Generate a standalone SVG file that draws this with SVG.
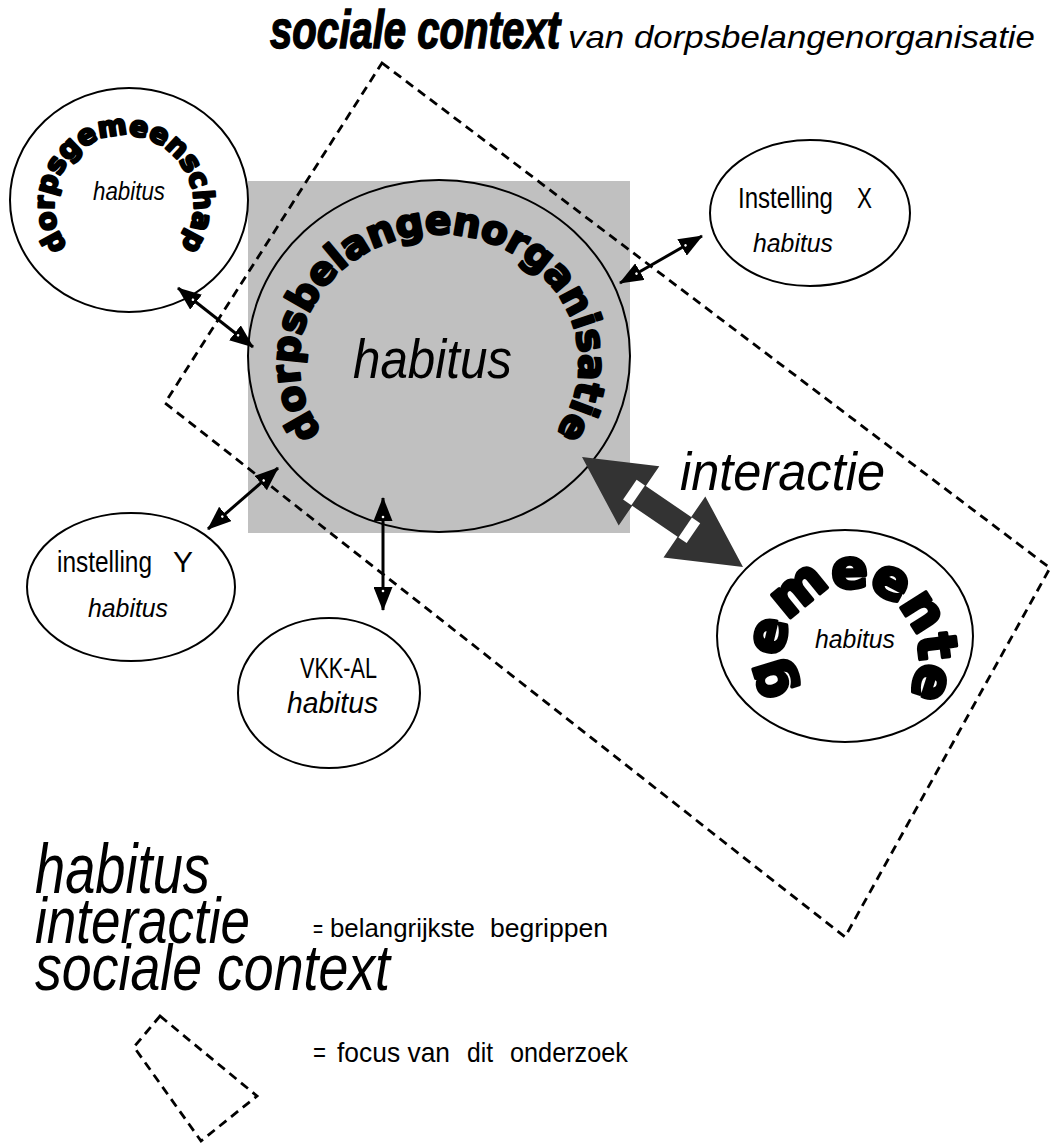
<svg xmlns="http://www.w3.org/2000/svg" width="1052" height="1144" viewBox="0 0 1052 1144">
<style>
.lbl{font-family:"Liberation Sans",Arial,sans-serif;fill:#000}
.it{font-style:italic}
.curve{font-family:"DejaVu Sans","Liberation Sans",sans-serif;font-weight:bold;fill:#000;stroke:#000;stroke-linejoin:round}
.node{fill:#fff;stroke:#000;stroke-width:2}
.dash{fill:none;stroke:#000;stroke-width:2.8;stroke-dasharray:9 6}
.conn{stroke:#000;stroke-width:3;fill:none;marker-start:url(#ah);marker-end:url(#ah)}
</style>
<defs>
<marker id="ah" markerUnits="userSpaceOnUse" markerWidth="24" markerHeight="19" viewBox="0 0 24 19" refX="23" refY="9.5" orient="auto-start-reverse">
<path d="M0,0 L24,9.5 L0,19 z" fill="#000"/>
<circle cx="4" cy="9.5" r="1.3" fill="#fff"/>
</marker>
<path id="p-dg" d="M74.5,254.5 A70,70 0 1 1 173.5,254.5"/>
<path id="p-dbo" d="M340,452.5 A140,128 0 1 1 538,452.5"/>
<path id="p-gem" d="M802.9,704.1 A68,68 0 1 1 899.1,704.1"/>
</defs>

<rect x="248" y="181" width="382" height="352" fill="#c0c0c0"/>
<polygon class="dash" points="382,63 1050,568 845,937 165,403"/>

<g id="dorpsbelangenorganisatie">
<ellipse cx="439" cy="356" rx="191" ry="176" fill="none" stroke="#000" stroke-width="2"/>
<text class="curve" font-size="39" stroke-width="2.4" letter-spacing="-0.3"><textPath href="#p-dbo" startOffset="50%" text-anchor="middle">dorpsbelangenorganisatie</textPath></text>
<text class="lbl it" x="353" y="378" font-size="56" textLength="159" lengthAdjust="spacingAndGlyphs">habitus</text>
</g>

<g id="dorpsgemeenschap">
<ellipse class="node" cx="129" cy="200" rx="119" ry="112"/>
<text class="curve" font-size="28" stroke-width="2.4"><textPath href="#p-dg" startOffset="50%" text-anchor="middle">dorpsgemeenschap</textPath></text>
<text class="lbl it" x="93" y="200" font-size="26" textLength="72" lengthAdjust="spacingAndGlyphs">habitus</text>
</g>

<g id="instelling-x">
<ellipse class="node" cx="810" cy="213" rx="100" ry="73"/>
<text class="lbl" y="208" font-size="29"><tspan x="738" textLength="95" lengthAdjust="spacingAndGlyphs">Instelling</tspan><tspan x="857" textLength="15" lengthAdjust="spacingAndGlyphs">X</tspan></text>
<text class="lbl it" x="753" y="252" font-size="26" textLength="80" lengthAdjust="spacingAndGlyphs">habitus</text>
</g>

<g id="instelling-y">
<ellipse class="node" cx="131" cy="587" rx="104" ry="74"/>
<text class="lbl" y="572" font-size="29"><tspan x="57" textLength="95" lengthAdjust="spacingAndGlyphs">instelling</tspan><tspan x="173" textLength="20" lengthAdjust="spacingAndGlyphs">Y</tspan></text>
<text class="lbl it" x="88" y="617" font-size="26" textLength="80" lengthAdjust="spacingAndGlyphs">habitus</text>
</g>

<g id="vkk-al">
<ellipse class="node" cx="329" cy="693" rx="91" ry="75"/>
<text class="lbl" x="300" y="678" font-size="29" textLength="77" lengthAdjust="spacingAndGlyphs">VKK-AL</text>
<text class="lbl it" x="287" y="713" font-size="30" textLength="91" lengthAdjust="spacingAndGlyphs">habitus</text>
</g>

<g id="gemeente">
<ellipse class="node" cx="845" cy="636" rx="128" ry="106"/>
<text class="curve" font-size="54" stroke-width="3.6" letter-spacing="-2"><textPath href="#p-gem" startOffset="50%" text-anchor="middle">gemeente</textPath></text>
<text class="lbl it" x="815" y="648" font-size="26" textLength="80" lengthAdjust="spacingAndGlyphs">habitus</text>
</g>

<g id="connectors">
<line class="conn" x1="178" y1="288" x2="253" y2="347"/>
<line class="conn" x1="620" y1="283" x2="702" y2="236"/>
<line class="conn" x1="208" y1="529" x2="278" y2="468"/>
<line class="conn" x1="383" y1="498" x2="383" y2="610"/>
<g id="interactie-arrow">
<polygon points="582,457 659.3,466.2 645.8,486 691.2,517 705.3,496.4 743,567 663.5,557.4 677.6,536.8 632.2,505.8 618.7,525.6" fill="#333"/>
<rect x="-5" y="-12" width="10" height="24" fill="#fff" transform="translate(634,492.5) rotate(34.3)"/>
<rect x="-5" y="-12" width="10" height="24" fill="#fff" transform="translate(689.3,530.3) rotate(34.3)"/>
</g>
</g>

<text class="lbl it" x="680" y="490" font-size="54" textLength="205" lengthAdjust="spacingAndGlyphs">interactie</text>

<g id="title">
<text class="lbl it" x="270" y="48" font-size="54" font-weight="bold" stroke="#000" stroke-width="1.5" textLength="290" lengthAdjust="spacingAndGlyphs">sociale  context</text>
<text class="lbl it" x="568" y="48" font-size="32" textLength="467" lengthAdjust="spacingAndGlyphs">van dorpsbelangenorganisatie</text>
</g>

<g id="legend">
<text class="lbl it" x="35" y="893" font-size="70" textLength="175" lengthAdjust="spacingAndGlyphs">habitus</text>
<text class="lbl it" x="35" y="943" font-size="64" textLength="215" lengthAdjust="spacingAndGlyphs">interactie</text>
<text class="lbl it" x="35" y="990" font-size="64" textLength="355" lengthAdjust="spacingAndGlyphs">sociale  context</text>
<text class="lbl" y="937" font-size="26"><tspan x="313" textLength="10" lengthAdjust="spacingAndGlyphs">=</tspan><tspan x="330" textLength="145" lengthAdjust="spacingAndGlyphs">belangrijkste</tspan><tspan x="490" textLength="118" lengthAdjust="spacingAndGlyphs">begrippen</tspan></text>
<polygon class="dash" points="160,1016 257,1096 201,1141 134,1047"/>
<text class="lbl" y="1062" font-size="28"><tspan x="313" textLength="13" lengthAdjust="spacingAndGlyphs">=</tspan><tspan x="337" textLength="113" lengthAdjust="spacingAndGlyphs">focus van</tspan><tspan x="467" textLength="26" lengthAdjust="spacingAndGlyphs">dit</tspan><tspan x="510" textLength="118" lengthAdjust="spacingAndGlyphs">onderzoek</tspan></text>
</g>
</svg>
